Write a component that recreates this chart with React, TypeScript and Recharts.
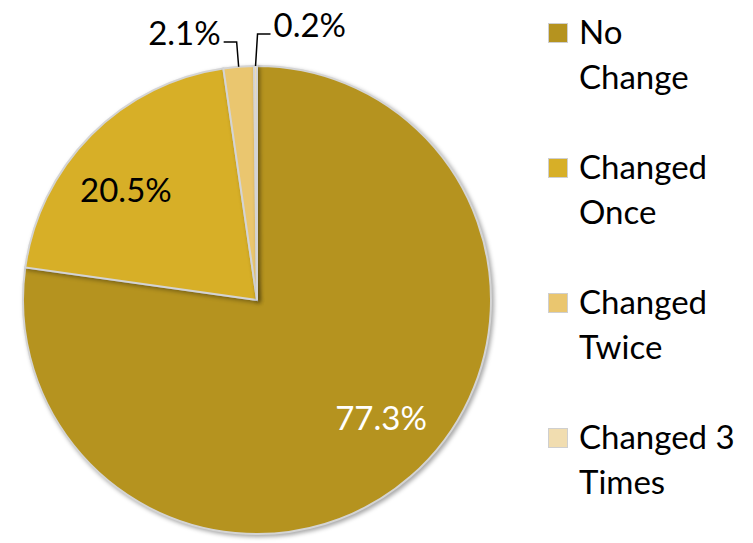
import { PieChart, Pie, Cell, Legend } from 'recharts';

const categories = ['No Change', 'Changed Once', 'Changed Twice', 'Changed 3 Times'];
const shares = [77.3, 20.5, 2.1, 0.2];
const legendLines = [['No', 'Change'], ['Changed', 'Once'], ['Changed', 'Twice'], ['Changed 3', 'Times']];

const colors = ['#B5931F', '#D7AF27', '#EAC66F', '#F1DDB0'];
const FONT = 'Lato, "Open Sans", sans-serif';
const FS = 33;
const RAD = Math.PI / 180;

const data = categories.map((name, i) => ({ name, value: shares[i] }));

// small slices get their label outside with an elbow leader line
const outsideSide: Record<string, number> = { 'Changed Twice': -1, 'Changed 3 Times': 1 };
// small nudges so inside labels sit where Excel put them
const insideNudge: Record<string, [number, number]> = { 'No Change': [12, -12], 'Changed Once': [-10, 10] };

const renderLabel = (props: any) => {
  const { cx, cy, midAngle, outerRadius, index, name } = props;
  const value = shares[index];
  const text = `${value.toFixed(1)}%`;
  const side = outsideSide[name];
  if (side === undefined) {
    const r = outerRadius * 0.73;
    const [nx, ny] = insideNudge[name] || [0, 0];
    const x = cx + r * Math.cos(-midAngle * RAD) + nx;
    const y = cy + r * Math.sin(-midAngle * RAD) + ny;
    return (
      <text x={x} y={y} fill={index === 0 ? '#fff' : '#000'} fontSize={FS} fontFamily={FONT}
        textAnchor="middle" dominantBaseline="central">
        {text}
      </text>
    );
  }
  const sx = cx + outerRadius * Math.cos(-midAngle * RAD);
  const sy = cy + outerRadius * Math.sin(-midAngle * RAD);
  const ey = side < 0 ? cy - outerRadius - 24 : cy - outerRadius - 32;
  const ex = sx + side * 2;
  const hx = ex + side * 13;
  return (
    <g>
      <polyline points={`${sx},${sy} ${ex},${ey} ${hx},${ey}`} fill="none" stroke="#000" strokeWidth={1.5} />
      <text x={hx + side * 3} y={ey - 10} fill="#000" fontSize={FS} fontFamily={FONT}
        textAnchor={side < 0 ? 'end' : 'start'} dominantBaseline="central">
        {text}
      </text>
    </g>
  );
};

const LegendBox = () => (
  <div style={{ fontFamily: FONT, fontSize: FS, color: '#000' }}>
    {categories.map((c, i) => (
      <div key={c} style={{ display: 'flex', alignItems: 'flex-start', height: 135 }}>
        <div style={{ width: 18, height: 18, marginTop: 14, marginRight: 11, background: colors[i], border: '1px solid #cfcfcf' }} />
        <div style={{ lineHeight: '45px' }}>
          {legendLines[i].map((l) => <div key={l}>{l}</div>)}
        </div>
      </div>
    ))}
  </div>
);

export default function App() {
  return (
    <div style={{ position: 'absolute', left: 0, top: 0, width: 753, height: 543, background: '#fff' }}>
      <PieChart width={753} height={543} margin={{ top: 0, right: 0, bottom: 0, left: 0 }}>
        <Pie
          data={data}
          dataKey="value"
          nameKey="name"
          cx={257}
          cy={300}
          outerRadius={234}
          startAngle={90}
          endAngle={-270}
          stroke="#D4D4D4"
          strokeWidth={2}
          label={renderLabel}
          labelLine={false}
          isAnimationActive={false}
        >
          {data.map((d, i) => (
            <Cell key={d.name} fill={colors[i]} style={{ filter: 'drop-shadow(2px 2px 2px rgba(0,0,0,0.35))' }} />
          ))}
        </Pie>
        <Legend
          layout="vertical"
          verticalAlign="top"
          align="right"
          wrapperStyle={{ left: 548, top: 9, width: 205 }}
          content={() => <LegendBox />}
        />
      </PieChart>
    </div>
  );
}
